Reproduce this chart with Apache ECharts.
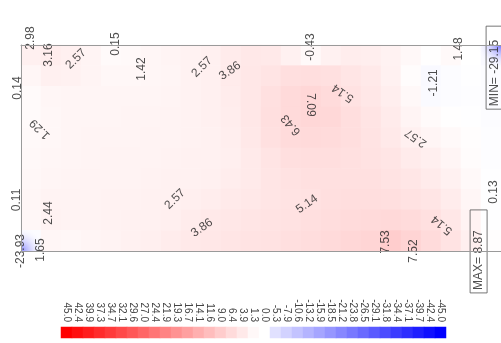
<!DOCTYPE html>
<html>
<head>
<meta charset="utf-8">
<style>
  html, body { margin: 0; padding: 0; background: #ffffff; }
  #chart { width: 501px; height: 343px; }
</style>
<script src="https://cdn.jsdelivr.net/npm/echarts@6/dist/echarts.min.js"></script>
</head>
<body>
<div id="chart"></div>
<script>
// Gridded field on a 24 x 10 mesh, rows listed from top to bottom
const fieldRows = [
  [2.7, 3.1, 2.7, 2.0, 0.8, 1.0, 1.5, 1.9, 2.3, 2.6, 3.5, 4.0, 3.8, 2.5, 1.0, 2.5, 3.2, 3.0, 2.3, 1.2, 0.2, 1.0, 0.0, -1.0],
  [1.5, 2.6, 2.4, 2.0, 1.4, 1.4, 1.5, 1.8, 2.3, 2.7, 3.6, 4.2, 4.8, 5.6, 5.8, 5.4, 4.6, 3.8, 2.4, 0.6, -1.1, -0.6, -0.2, -0.5],
  [0.8, 1.6, 1.8, 1.8, 1.7, 1.7, 1.8, 2.0, 2.3, 2.7, 3.4, 4.3, 5.5, 6.6, 7.1, 6.3, 5.1, 4.3, 3.0, 1.2, -0.8, -0.5, -0.3, -0.5],
  [0.9, 1.4, 1.7, 1.8, 1.8, 1.9, 2.0, 2.1, 2.3, 2.6, 3.2, 4.2, 5.6, 6.5, 7.0, 6.8, 5.8, 4.8, 3.6, 2.0, 0.8, 0.2, -0.2, -0.5],
  [1.1, 1.4, 1.7, 1.9, 2.0, 2.0, 2.1, 2.2, 2.3, 2.5, 3.0, 4.0, 5.4, 6.3, 6.6, 6.4, 5.8, 5.0, 3.9, 2.6, 1.8, 1.0, 0.3, -0.3],
  [1.3, 1.6, 1.8, 2.0, 2.1, 2.1, 2.2, 2.3, 2.4, 2.5, 2.9, 3.7, 4.8, 5.6, 5.9, 5.8, 5.5, 5.1, 4.5, 3.6, 2.8, 1.8, 0.6, -0.3],
  [1.4, 1.8, 2.0, 2.1, 2.2, 2.2, 2.3, 2.4, 2.5, 2.7, 3.1, 3.7, 4.5, 5.1, 5.4, 5.5, 5.5, 5.4, 5.0, 4.4, 3.6, 2.5, 1.0, -0.2],
  [1.5, 2.2, 2.2, 2.2, 2.3, 2.3, 2.4, 2.5, 2.8, 3.2, 3.7, 4.1, 4.6, 5.0, 5.2, 5.6, 5.8, 5.9, 5.7, 5.2, 4.5, 3.3, 1.5, -0.2],
  [1.4, 2.3, 2.2, 2.2, 2.3, 2.4, 2.5, 2.8, 3.3, 3.9, 4.3, 4.6, 4.9, 5.2, 5.6, 6.0, 6.3, 6.6, 6.7, 6.3, 5.4, 4.3, 2.2, -0.1],
  [-0.5, 1.6, 1.4, 1.7, 2.2, 2.5, 2.8, 3.3, 3.8, 4.2, 4.6, 4.9, 5.2, 5.6, 6.0, 6.5, 7.0, 7.4, 8.87, 7.6, 6.4, 5.0, 2.8, 0.3]
];

// Measured station values and their mesh locations (column, row units)
const stationValues = [2.98, 3.16, 0.15, 1.42, -0.43, 7.09, 1.48, -1.21, 0.14, 0.11, -23.93, 1.65, 2.44, 7.53, 7.52, 0.13, -29.15];
const stationCols   = [0.5, 1.4, 4.75, 6.05, 14.5, 14.45, 21.9, 20.65, -0.15, -0.2, 0.0, 1.0, 1.4, 18.25, 19.65, 23.65, 24.0];
const stationRows   = [-0.34, 0.49, -0.05, 1.17, 0.1, 2.91, 0.19, 1.84, 2.09, 7.52, 10.0, 9.95, 8.16, 9.56, 10.0, 7.14, 0.0];
const stationShown  = [true, true, true, true, true, true, true, true, true, true, true, true, true, true, true, true, false];

// Contour levels with their label anchors
const contourLevels = [2.57, 2.57, 3.86, 6.43, 5.14, 2.57, 1.29, 2.57, 3.86, 5.14, 5.14];
const contourCols   = [2.75, 9.05, 10.45, 13.5, 16.1, 19.75, 0.95, 7.7, 9.05, 14.3, 21.05];
const contourRows   = [0.68, 1.07, 1.26, 3.88, 2.33, 4.51, 4.08, 7.48, 8.88, 7.72, 8.74];
const contourAngles = [45, 45, 35, 130, 145, 145, 135, 45, 35, 35, 140];

// Colour scale steps
const scaleLabels = ['45.0', '42.4', '39.9', '37.3', '34.7', '32.1', '29.6', '27.0', '24.4', '21.9', '19.3', '16.7', '14.1', '11.6', '9.0', '6.4', '3.9', '1.3', '0.0',
  '-5.3', '-7.9', '-10.6', '-13.2', '-15.9', '-18.5', '-21.2', '-23.8', '-26.5', '-29.1', '-31.8', '-34.4', '-37.1', '-39.7', '-42.4', '-45.0'];

const nCols = fieldRows[0].length;
const nRows = fieldRows.length;

const fieldData = [];
fieldRows.forEach((row, r) => row.forEach((v, c) => fieldData.push([c, r, v])));

const scaleData = scaleLabels.map((s, i) => [i, 0, parseFloat(s)]);

const allValues = fieldRows.flat().concat(stationValues);
const vMin = Math.min(...allValues);
const vMax = Math.max(...allValues);

const fmt = v => v.toFixed(2);

const stationText = [];
stationValues.forEach((v, i) => {
  if (!stationShown[i]) return;
  stationText.push({ value: [stationCols[i], stationRows[i], v], label: { rotate: v === 7.09 ? -90 : 90 } });
});
const contourText = contourLevels.map((v, i) => ({
  value: [contourCols[i], contourRows[i], v],
  label: { rotate: contourAngles[i] }
}));

// Strongly negative stations shown as soft spots
const extremeData = [];
stationValues.forEach((v, i) => {
  if (v < -10) extremeData.push([stationCols[i], stationRows[i], v]);
});

const frameLine = { show: true, onZero: false, lineStyle: { color: '#9a9a9a', width: 1 } };
const bare = { axisTick: { show: false }, axisLabel: { show: false }, splitLine: { show: false } };

const chart = echarts.init(document.getElementById('chart'), null, { renderer: 'canvas' });
chart.setOption({
  animation: false,
  backgroundColor: '#ffffff',
  textStyle: { fontFamily: 'Liberation Sans, Arial, sans-serif' },
  grid: [
    { left: 21, top: 45, width: 480, height: 206 },
    { left: 21, top: 45, width: 480, height: 206 },
    { left: 61, top: 327, width: 385, height: 11 }
  ],
  visualMap: {
    type: 'continuous',
    show: false,
    min: -45,
    max: 45,
    dimension: 2,
    seriesIndex: [0, 1, 2],
    inRange: { color: ['#0000ff', '#ffffff', '#ff0000'] }
  },
  xAxis: [
    { type: 'category', gridIndex: 0, data: Array.from({ length: nCols }, (_, i) => i), show: false },
    { type: 'value', gridIndex: 1, min: 0, max: nCols, position: 'bottom', z: 10, axisLine: frameLine, ...bare },
    { type: 'value', gridIndex: 1, min: 0, max: nCols, position: 'top', z: 10, axisLine: frameLine, ...bare },
    { type: 'category', gridIndex: 2, data: scaleLabels, position: 'top',
      axisLine: { show: false }, axisTick: { show: false }, splitLine: { show: false },
      axisLabel: { rotate: 90, margin: 5, fontSize: 10, color: '#444', interval: 0 } }
  ],
  yAxis: [
    { type: 'category', gridIndex: 0, inverse: true, data: Array.from({ length: nRows }, (_, i) => i), show: false },
    { type: 'value', gridIndex: 1, min: 0, max: nRows, inverse: true, z: 10, axisLine: frameLine, ...bare },
    { type: 'category', gridIndex: 2, data: [''], show: false }
  ],
  series: [
    {
      type: 'heatmap', xAxisIndex: 0, yAxisIndex: 0, data: fieldData,
      emphasis: { disabled: true }, itemStyle: { borderWidth: 0 }
    },
    {
      type: 'heatmap', xAxisIndex: 3, yAxisIndex: 2, data: scaleData,
      emphasis: { disabled: true }
    },
    {
      // soft radial spot, clipped to the plot frame
      type: 'custom', xAxisIndex: 1, yAxisIndex: 1, data: extremeData, clip: true, silent: true,
      renderItem: (params, api) => {
        const p = api.coord([api.value(0), api.value(1)]);
        const c = api.visual('color');
        return {
          type: 'circle',
          shape: { cx: p[0], cy: p[1], r: 24 },
          style: {
            opacity: 0.85,
            fill: new echarts.graphic.RadialGradient(0.5, 0.5, 0.5, [
              { offset: 0, color: c },
              { offset: 1, color: 'rgba(255,255,255,0)' }
            ])
          }
        };
      }
    },
    {
      type: 'scatter', xAxisIndex: 1, yAxisIndex: 1, clip: false, symbolSize: 0, silent: true,
      data: stationText.concat(contourText),
      label: {
        show: true, position: 'inside', fontSize: 12, color: '#222',
        formatter: p => fmt(p.value[2])
      }
    },
    {
      type: 'scatter', xAxisIndex: 1, yAxisIndex: 1, clip: false, symbolSize: 0, silent: true,
      data: [
        { name: 'MIN= ' + fmt(vMin), value: [23.68, 1.1] },
        { name: 'MAX= ' + fmt(vMax), value: [22.88, 10.02] }
      ],
      label: {
        show: true, position: 'inside', rotate: 90, color: '#222',
        borderColor: '#555', borderWidth: 1, padding: [2, 3],
        formatter: p => '{t|' + p.name + '}',
        rich: { t: { width: 77, align: 'left', fontSize: 12, lineHeight: 13, color: '#222' } }
      }
    }
  ]
});
</script>
</body>
</html>
